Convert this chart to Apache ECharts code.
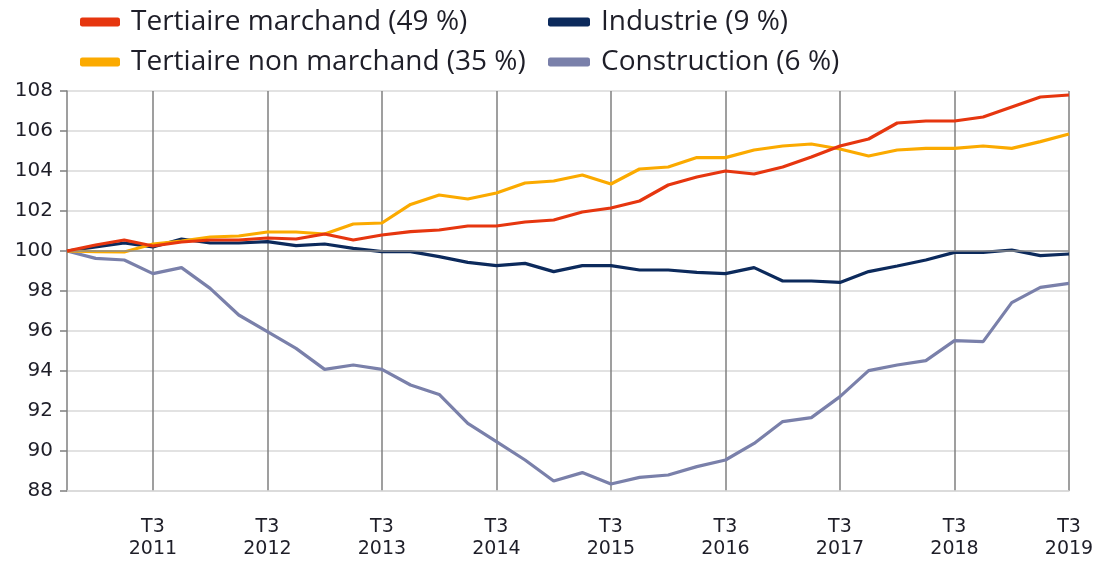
<!DOCTYPE html>
<html>
<head>
<meta charset="utf-8">
<script src="https://cdn.jsdelivr.net/npm/echarts@6/dist/echarts.min.js"></script>
<style>html,body{margin:0;padding:0;background:#fff;}#c{width:1098px;height:561px;}</style>
</head>
<body>
<div id="c"></div>
<script>
const categories = [
  "T4 2010",
  "T1 2011","T2 2011","T3 2011","T4 2011",
  "T1 2012","T2 2012","T3 2012","T4 2012",
  "T1 2013","T2 2013","T3 2013","T4 2013",
  "T1 2014","T2 2014","T3 2014","T4 2014",
  "T1 2015","T2 2015","T3 2015","T4 2015",
  "T1 2016","T2 2016","T3 2016","T4 2016",
  "T1 2017","T2 2017","T3 2017","T4 2017",
  "T1 2018","T2 2018","T3 2018","T4 2018",
  "T1 2019","T2 2019","T3 2019"
];
const seriesNames = ["Tertiaire marchand (49 %)", "Tertiaire non marchand (35 %)", "Industrie (9 %)", "Construction (6 %)"];
const tertiaireMarchand = [100, 100.3, 100.55, 100.25, 100.45, 100.55, 100.55, 100.65, 100.6, 100.85, 100.55, 100.8,
  100.97, 101.05, 101.25, 101.25, 101.45, 101.55, 101.95, 102.15, 102.5, 103.3, 103.7, 104.0,
  103.85, 104.2, 104.7, 105.25, 105.6, 106.4, 106.5, 106.5, 106.7, 107.2, 107.7, 107.8];
const tertiaireNonMarchand = [100, 99.97, 99.95, 100.35, 100.5, 100.7, 100.75, 100.95, 100.95, 100.85, 101.35, 101.4,
  102.33, 102.8, 102.6, 102.9, 103.4, 103.5, 103.8, 103.35, 104.1, 104.2, 104.67, 104.67,
  105.05, 105.25, 105.35, 105.1, 104.75, 105.05, 105.13, 105.13, 105.25, 105.13, 105.47, 105.85];
const industrie = [100, 100.2, 100.4, 100.2, 100.6, 100.4, 100.4, 100.47, 100.27, 100.35, 100.13, 99.97,
  99.97, 99.72, 99.43, 99.27, 99.38, 98.97, 99.27, 99.27, 99.05, 99.05, 98.93, 98.87,
  99.17, 98.5, 98.5, 98.43, 98.97, 99.25, 99.55, 99.93, 99.93, 100.05, 99.77, 99.85];
const construction = [100, 99.63, 99.55, 98.87, 99.17, 98.13, 96.8, 95.97, 95.13, 94.08, 94.3, 94.08,
  93.3, 92.83, 91.38, 90.47, 89.55, 88.5, 88.92, 88.35, 88.68, 88.8, 89.22, 89.55,
  90.38, 91.47, 91.67, 92.72, 94.02, 94.3, 94.52, 95.52, 95.47, 97.42, 98.18, 98.38];
const yTicks = { min: 88, max: 108, interval: 2 };
const colors = { marchand: "#e6360f", nonMarchand: "#fbaa00", industrie: "#0c2a5c", construction: "#7a80aa" };

const isT3 = (i) => (i - 3) % 4 === 0;

function lineSeries(name, data, color, z, extra) {
  return Object.assign({
    name: name, type: 'line', data: data, symbol: 'none', z: z,
    itemStyle: { color: color },
    lineStyle: { width: 3.2, color: color }
  }, extra || {});
}

const chart = echarts.init(document.getElementById('c'));
const legendText = { fontFamily: "Open Sans", fontSize: 28, color: "#1e1e28", lineHeight: 30, padding: [0, 0, 0, 6] };
chart.setOption({
  animation: false,
  legend: [
    { data: [seriesNames[0], seriesNames[1]], orient: 'vertical', left: 80, top: 7, padding: 0,
      itemGap: 10, itemWidth: 40, itemHeight: 9, icon: 'roundRect', textStyle: legendText },
    { data: [seriesNames[2], seriesNames[3]], orient: 'vertical', left: 548, top: 7, padding: 0,
      itemGap: 10, itemWidth: 42, itemHeight: 9, icon: 'roundRect', textStyle: legendText }
  ],
  grid: { left: 67, right: 29, top: 91, bottom: 70, containLabel: false },
  xAxis: {
    type: 'category', data: categories, boundaryGap: false,
    axisLine: { show: true, lineStyle: { color: '#d9d9d9', width: 1.5 } },
    axisTick: { show: false },
    axisLabel: {
      interval: (i) => isT3(i),
      formatter: (v) => v.replace(' ', '\n'),
      fontFamily: "DejaVu Sans", fontSize: 19, color: '#1e1e28', lineHeight: 22, margin: 25
    },
    splitLine: { show: true, interval: (i) => isT3(i), lineStyle: { color: '#7f7f7f', width: 1.5 } }
  },
  yAxis: {
    type: 'value', min: yTicks.min, max: yTicks.max, interval: yTicks.interval,
    axisLine: { show: true, lineStyle: { color: '#7f7f7f', width: 1.5 } },
    axisTick: { show: true, length: 7, lineStyle: { color: '#7f7f7f', width: 1.5 } },
    axisLabel: { fontFamily: "DejaVu Sans", fontSize: 20, color: '#1e1e28', margin: 14 },
    splitLine: { show: true, lineStyle: { color: '#d9d9d9', width: 1.5 } }
  },
  series: [
    lineSeries(seriesNames[3], construction, colors.construction, 2, {
      markLine: { silent: true, symbol: 'none', label: { show: false },
        lineStyle: { color: '#8c8c8c', width: 1.5, type: 'solid' }, data: [{ yAxis: 100 }] } }),
    lineSeries(seriesNames[2], industrie, colors.industrie, 3),
    lineSeries(seriesNames[1], tertiaireNonMarchand, colors.nonMarchand, 4),
    lineSeries(seriesNames[0], tertiaireMarchand, colors.marchand, 5)
  ]
});
</script>
</body>
</html>
